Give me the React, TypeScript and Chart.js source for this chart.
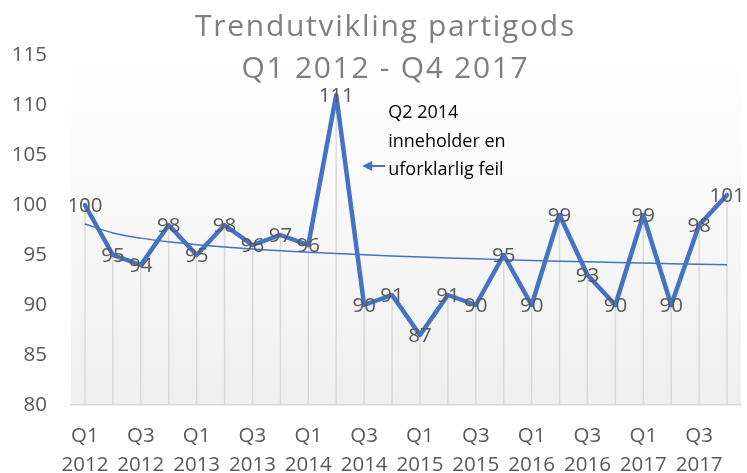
import React, { useEffect, useRef } from 'react';
import { Chart, registerables } from 'chart.js';

Chart.register(...registerables);

const categories = [
  'Q1 2012', 'Q2 2012', 'Q3 2012', 'Q4 2012',
  'Q1 2013', 'Q2 2013', 'Q3 2013', 'Q4 2013',
  'Q1 2014', 'Q2 2014', 'Q3 2014', 'Q4 2014',
  'Q1 2015', 'Q2 2015', 'Q3 2015', 'Q4 2015',
  'Q1 2016', 'Q2 2016', 'Q3 2016', 'Q4 2016',
  'Q1 2017', 'Q2 2017', 'Q3 2017', 'Q4 2017',
];
const values = [100, 95, 94, 98, 95, 98, 96, 97, 96, 111, 90, 91, 87, 91, 90, 95, 90, 99, 93, 90, 99, 90, 98, 101];
const yMin = 80;
const yMax = 115;
const yStep = 5;
const titleLines = ['Trendutvikling partigods', 'Q1 2012 - Q4 2017'];
const noteLines = ['Q2 2014', 'inneholder en', 'uforklarlig feil'];
const noteIndex = 9;

// Logarithmic trendline (least squares fit y = a + b ln x), like Excel
function logTrend(ys: number[]): number[] {
  const n = ys.length;
  const ls = ys.map((_, i) => Math.log(i + 1));
  const mL = ls.reduce((s, v) => s + v, 0) / n;
  const mY = ys.reduce((s, v) => s + v, 0) / n;
  let sxy = 0, sxx = 0;
  for (let i = 0; i < n; i++) {
    sxy += (ls[i] - mL) * (ys[i] - mY);
    sxx += (ls[i] - mL) * (ls[i] - mL);
  }
  const b = sxy / sxx;
  const a = mY - b * mL;
  return ls.map((l) => a + b * l);
}
const trendValues = logTrend(values);

const FONT = "'Open Sans', sans-serif";
const BLUE = '#4472c4';
const TEXT = '#595959';

const bgPlugin = {
  id: 'bgPlugin',
  beforeDraw(chart: any) {
    const { ctx, chartArea } = chart;
    const g = ctx.createLinearGradient(0, chartArea.top, 0, chartArea.bottom);
    g.addColorStop(0, '#ffffff');
    g.addColorStop(1, '#efefef');
    ctx.save();
    ctx.fillStyle = g;
    ctx.fillRect(chartArea.left, chartArea.top, chartArea.right - chartArea.left, chartArea.bottom - chartArea.top);
    ctx.restore();
  },
};

const dropLinePlugin = {
  id: 'dropLines',
  beforeDatasetsDraw(chart: any) {
    const { ctx, chartArea } = chart;
    const meta = chart.getDatasetMeta(0);
    ctx.save();
    ctx.strokeStyle = '#d9d9d9';
    ctx.lineWidth = 1.5;
    meta.data.forEach((pt: any) => {
      ctx.beginPath();
      ctx.moveTo(pt.x, pt.y);
      ctx.lineTo(pt.x, chartArea.bottom);
      ctx.stroke();
    });
    ctx.restore();
  },
};

const labelsPlugin = {
  id: 'dataLabels',
  afterDatasetsDraw(chart: any) {
    const { ctx } = chart;
    const meta = chart.getDatasetMeta(0);
    ctx.save();
    ctx.font = `20.5px ${FONT}`;
    ctx.fillStyle = TEXT;
    ctx.textAlign = 'center';
    ctx.textBaseline = 'middle';
    meta.data.forEach((pt: any, i: number) => {
      ctx.fillText(String(values[i]), pt.x, pt.y + 1);
    });
    ctx.restore();
  },
};

const titleNotePlugin = {
  id: 'titleNote',
  afterDraw(chart: any) {
    const { ctx, width } = chart;
    ctx.save();
    ctx.font = `30px ${FONT}`;
    ctx.fillStyle = '#7f7f7f';
    ctx.textAlign = 'center';
    ctx.textBaseline = 'alphabetic';
    (ctx as any).letterSpacing = '1.7px';
    const cx = width / 2 + 12;
    ctx.fillText(titleLines[0], cx, 36);
    ctx.fillText(titleLines[1], cx, 78);
    (ctx as any).letterSpacing = '0px';

    // annotation
    const meta = chart.getDatasetMeta(0);
    const pt = meta.data[noteIndex];
    const tx = pt.x + 52;
    ctx.font = `18px ${FONT}`;
    ctx.fillStyle = '#000000';
    ctx.textAlign = 'left';
    ctx.fillText(noteLines[0], tx, 118);
    ctx.fillText(noteLines[1], tx, 147);
    ctx.fillText(noteLines[2], tx, 175);

    // arrow
    const ay = 166;
    const tip = pt.x + 26;
    ctx.strokeStyle = BLUE;
    ctx.fillStyle = BLUE;
    ctx.lineWidth = 2;
    ctx.beginPath();
    ctx.moveTo(pt.x + 49, ay);
    ctx.lineTo(tip + 8, ay);
    ctx.stroke();
    ctx.beginPath();
    ctx.moveTo(tip, ay);
    ctx.lineTo(tip + 10, ay - 5);
    ctx.lineTo(tip + 10, ay + 5);
    ctx.closePath();
    ctx.fill();
    ctx.restore();
  },
};

export default function App() {
  const ref = useRef<HTMLCanvasElement | null>(null);
  useEffect(() => {
    if (!ref.current) return;
    const chart = new Chart(ref.current, {
      type: 'line',
      data: {
        labels: categories,
        datasets: [
          {
            label: 'Partigods',
            data: values,
            borderColor: BLUE,
            backgroundColor: BLUE,
            borderWidth: 4.5,
            pointRadius: 0,
            pointHoverRadius: 0,
            tension: 0,
            borderJoinStyle: 'round',
            borderCapStyle: 'round',
          },
          {
            label: 'Trend',
            data: trendValues,
            borderColor: BLUE,
            borderWidth: 1.5,
            pointRadius: 0,
            tension: 0.4,
            cubicInterpolationMode: 'monotone',
          },
        ],
      },
      options: {
        animation: false,
        responsive: true,
        maintainAspectRatio: false,
        events: [],
        layout: { padding: { top: 55, right: 6, left: 0, bottom: 0 } },
        plugins: {
          legend: { display: false },
          title: { display: false },
          tooltip: { enabled: false },
        },
        scales: {
          x: {
            offset: true,
            grid: { display: false, drawTicks: false },
            border: { display: true, color: '#d9d9d9', width: 1.5 },
            ticks: {
              autoSkip: false,
              maxRotation: 0,
              minRotation: 0,
              padding: 17,
              color: TEXT,
              font: { family: FONT, size: 20.5, lineHeight: 1.41 },
              callback: function (this: any, value: any, index: number) {
                return index % 2 === 0 ? String(this.getLabelForValue(value)).split(' ') : '';
              },
            },
            afterFit: (scale: any) => {
              scale.height = 68;
            },
          },
          y: {
            min: yMin,
            max: yMax,
            grid: { display: false, drawTicks: false },
            border: { display: false },
            ticks: {
              stepSize: yStep,
              padding: 24,
              color: TEXT,
              font: { family: FONT, size: 20.5 },
            },
            afterFit: (scale: any) => {
              scale.width = 71;
            },
          },
        },
      },
      plugins: [bgPlugin, dropLinePlugin, labelsPlugin, titleNotePlugin],
    } as any);
    return () => chart.destroy();
  }, []);

  return (
    <div style={{ position: 'fixed', left: 0, top: 0, width: 747, height: 473, background: '#fff' }}>
      <canvas ref={ref} />
    </div>
  );
}
